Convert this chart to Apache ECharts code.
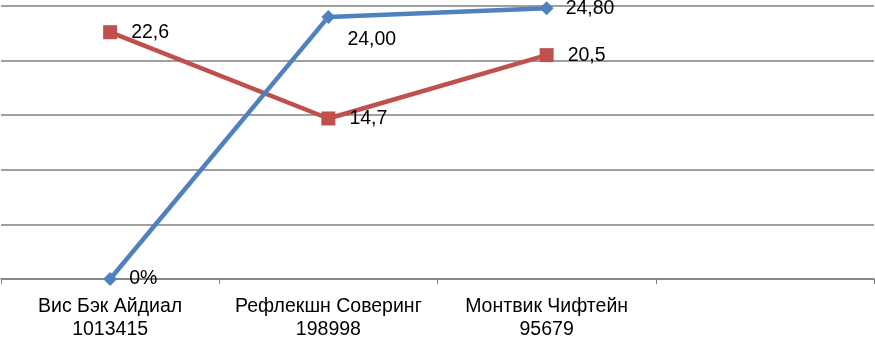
<!DOCTYPE html>
<html><head><meta charset="utf-8">
<script src="https://cdn.jsdelivr.net/npm/echarts@6/dist/echarts.min.js"></script>
<style>html,body{margin:0;padding:0;background:#fff}#c{width:875px;height:341px}</style>
</head><body><div id="c"></div>
<script>
const categories = ['Вис Бэк Айдиал\n1013415', 'Рефлекшн Соверинг\n198998', 'Монтвик Чифтейн\n95679', ''];
const blueValues = [0, 24.0, 24.8, null];
const blueLabels = ['0%', '24,00', '24,80'];
const redValues = [22.6, 14.7, 20.5, null];
const redLabels = ['22,6', '14,7', '20,5'];
const yMin = 0, yMax = 25, yStep = 5;

const font = 'Liberation Sans, Arial, sans-serif';
const chart = echarts.init(document.getElementById('c'), null, {renderer: 'canvas'});
chart.setOption({
  animation: false,
  grid: {left: 1, right: 1, top: 6, bottom: 57, containLabel: false},
  xAxis: {
    type: 'category', data: categories, boundaryGap: true,
    axisLine: {lineStyle: {color: '#808080', width: 1.5}},
    axisTick: {show: true, length: 5, lineStyle: {color: '#808080', width: 1}},
    axisLabel: {color: '#000', fontSize: 19.5, fontFamily: font, lineHeight: 23, margin: 16, interval: 0}
  },
  yAxis: {
    type: 'value', min: yMin, max: yMax, interval: yStep,
    axisLine: {show: false}, axisTick: {show: false}, axisLabel: {show: false},
    splitLine: {lineStyle: {color: '#808080', width: 1.5}}
  },
  series: [
    {
      type: 'line', data: blueValues.map((v, i) => i === 1 ? {value: v, label: {offset: [0, 23]}} : v),
      symbol: 'diamond', symbolSize: 14,
      lineStyle: {color: '#4F81BD', width: 4.5}, itemStyle: {color: '#4F81BD'},
      z: 3,
      label: {show: true, position: 'right', distance: 12, color: '#000', fontSize: 19.5, fontFamily: font,
        formatter: p => blueLabels[p.dataIndex]}
    },
    {
      type: 'line', data: redValues, symbol: 'rect', symbolSize: 14,
      lineStyle: {color: '#C0504D', width: 4.5}, itemStyle: {color: '#C0504D'},
      z: 2,
      label: {show: true, position: 'right', distance: 14, color: '#000', fontSize: 19.5, fontFamily: font,
        formatter: p => redLabels[p.dataIndex]}
    }
  ]
});
</script></body></html>
